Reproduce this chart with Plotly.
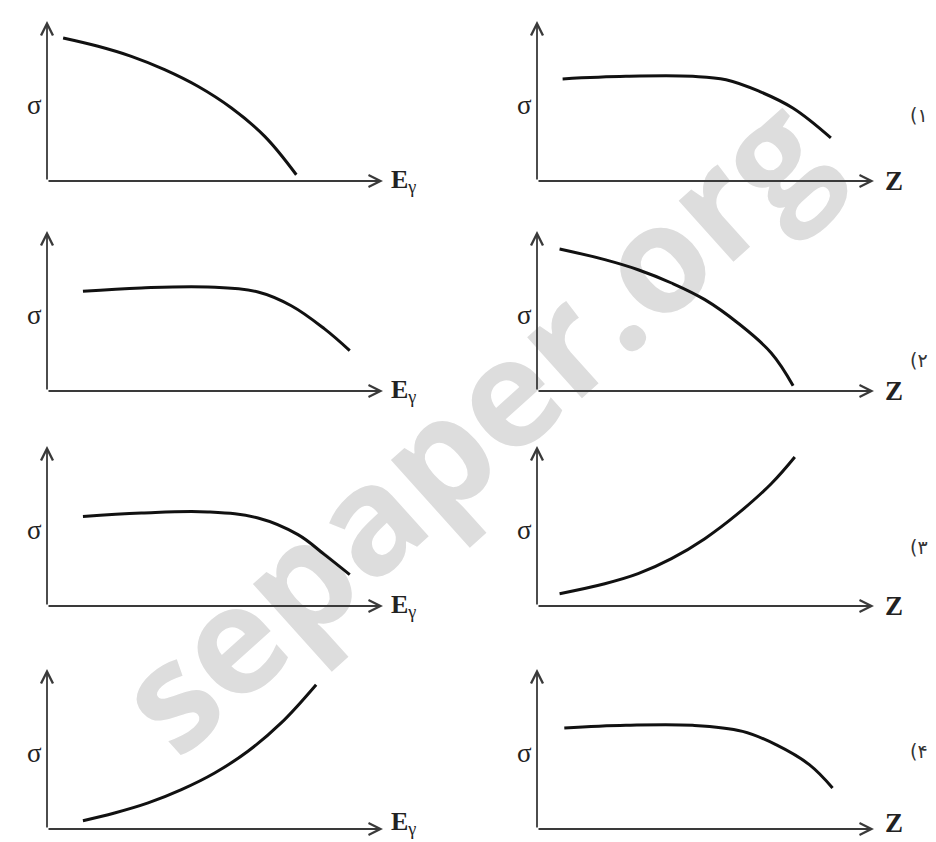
import plotly.graph_objects as go

# ── curves (axis units 0–10, origin at the axes corner) ──
# left column: σ vs E_γ, right column: σ vs Z, rows top → bottom
p1_x = [0.48, 1.52, 2.51, 3.50, 4.49, 5.49, 6.48, 7.42]
p1_y = [8.94, 8.42, 7.79, 6.96, 5.92, 4.56, 2.79, 0.39]

p2_x = [0.76, 2.64, 4.62, 5.61, 6.60, 7.59, 8.72]
p2_y = [6.38, 6.54, 6.54, 6.33, 5.60, 4.56, 2.69]

p3_x = [1.07, 2.81, 4.79, 6.28, 7.27, 8.26, 9.01]
p3_y = [6.23, 6.44, 6.50, 6.19, 5.33, 3.88, 2.52]

p4_x = [0.67, 2.01, 3.00, 3.99, 4.98, 5.96, 6.95, 7.60]
p4_y = [8.88, 8.21, 7.58, 6.75, 5.71, 4.25, 2.38, 0.33]

p5_x = [1.07, 2.81, 4.79, 6.28, 7.47, 8.26, 9.01]
p5_y = [5.60, 5.81, 5.88, 5.50, 4.46, 3.21, 1.96]

p6_x = [0.67, 2.01, 3.00, 3.99, 4.98, 5.96, 6.95, 7.65]
p6_y = [0.77, 1.39, 2.02, 2.96, 4.21, 5.77, 7.64, 9.31]

p7_x = [1.07, 2.01, 3.01, 4.00, 4.99, 5.98, 6.97, 8.01]
p7_y = [0.52, 1.00, 1.63, 2.46, 3.50, 4.86, 6.63, 9.02]

p8_x = [0.81, 2.64, 4.62, 6.10, 7.09, 8.08, 8.77]
p8_y = [6.31, 6.48, 6.48, 6.10, 5.27, 4.02, 2.56]

curves = [(p1_x, p1_y), (p2_x, p2_y), (p3_x, p3_y), (p4_x, p4_y),
          (p5_x, p5_y), (p6_x, p6_y), (p7_x, p7_y), (p8_x, p8_y)]

x_titles = ["<b>E</b><sub>γ</sub>", "<b>Z</b>"]
option_labels = ["(۱", "(۲", "(۳", "(۴"]
option_y = [0.33, 0.11, 0.29, 0.49]

# ── layout: pixel boxes of each small axes (origin → arrow tips) ──────────────
W, H = 936, 842
col_px = [(39, 375), (529, 866)]
row_px = [(173, 13), (383, 223), (598, 438), (821, 661)]

fig = go.Figure()
annotations = []
layout_axes = {}

for i, (cx, cy) in enumerate(curves):
    r, c = divmod(i, 2)
    n = "" if i == 0 else str(i + 1)
    xa, ya = "x" + n, "y" + n
    x0, x1 = col_px[c]
    y0, y1 = row_px[r]
    layout_axes["xaxis" + n] = dict(domain=[x0 / W, x1 / W], range=[0, 10], visible=False,
                                    anchor=ya, fixedrange=True)
    layout_axes["yaxis" + n] = dict(domain=[1 - y0 / H, 1 - y1 / H], range=[0, 10], visible=False,
                                    anchor=xa, fixedrange=True)

    fig.add_trace(go.Scatter(
        x=cx, y=cy, xaxis=xa, yaxis=ya,
        mode="lines", line=dict(color="#111", width=3, shape="spline", smoothing=1.1),
        showlegend=False, hoverinfo="skip",
    ))

    # axes with open arrow heads
    for hx, hy in [(10, 0), (0, 10)]:
        annotations.append(dict(
            x=hx, y=hy, ax=0, ay=0, xref=xa, yref=ya, axref=xa, ayref=ya,
            text="", showarrow=True, arrowhead=5, arrowsize=1.3, arrowwidth=1.8,
            arrowcolor="#3a3a3a", standoff=0, startstandoff=0,
        ))

    xd, yd = xa + " domain", ya + " domain"
    annotations.append(dict(
        x=-0.066, y=0.475, xref=xd, yref=yd, text="σ", showarrow=False,
        font=dict(family="Liberation Serif", size=27, color="#222"),
    ))
    annotations.append(dict(
        x=1.02 if c == 0 else 1.03, y=0, xref=xd, yref=yd, text=x_titles[c],
        showarrow=False, xanchor="left", yanchor="middle", borderpad=0,
        yshift=6 if r == 3 else 0,
        font=dict(family="Liberation Serif", size=26 if c == 0 else 27, color="#222"),
    ))
    if c == 1:
        annotations.append(dict(
            x=1.165, y=option_y[r], xref=xd, yref=yd, text=option_labels[r],
            showarrow=False, font=dict(family="DejaVu Sans", size=19, color="#333"),
        ))

# faint diagonal watermark behind everything
watermark = dict(
    type="rect", xref="paper", yref="paper", x0=0, x1=1, y0=0, y1=1,
    line=dict(width=0), fillcolor="rgba(0,0,0,0)", layer="below",
    label=dict(text="sepaper.org", textangle=-42, textposition="middle center",
               font=dict(family="Open Sans", size=150, color="#dddddd", weight="bold")),
)

fig.update_layout(
    width=W, height=H,
    margin=dict(l=0, r=0, t=0, b=0),
    paper_bgcolor="white", plot_bgcolor="rgba(0,0,0,0)",
    annotations=annotations, shapes=[watermark],
    **layout_axes,
)
fig.write_html("out.html")
